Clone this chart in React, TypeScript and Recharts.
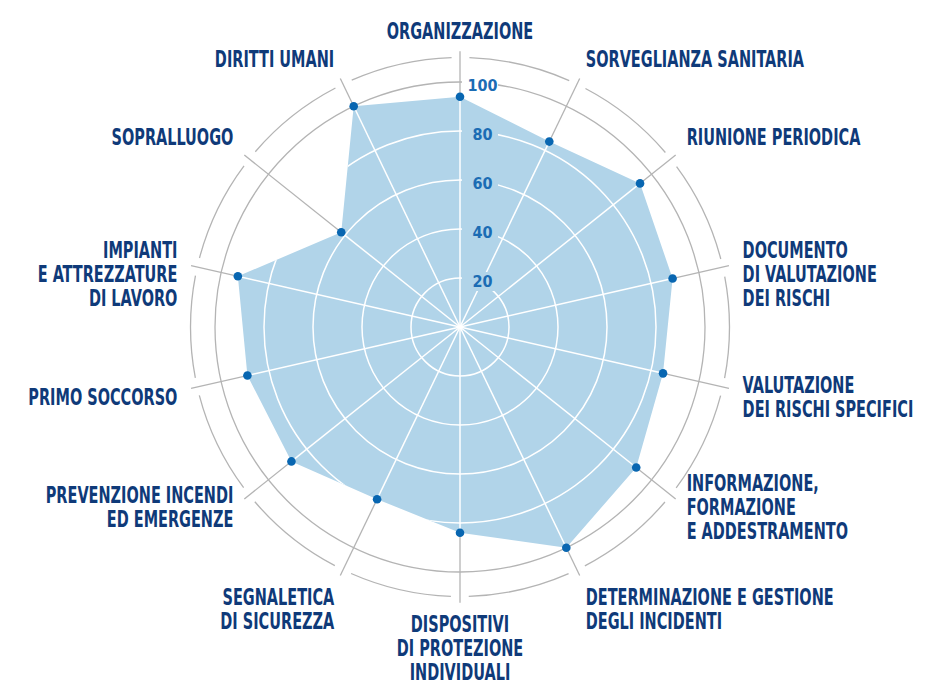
import { PolarAngleAxis, PolarRadiusAxis, Radar, RadarChart } from "recharts";

// categories clockwise from the top, "\n" = line break in the label
const categories = [
  "ORGANIZZAZIONE",
  "SORVEGLIANZA SANITARIA",
  "RIUNIONE PERIODICA",
  "DOCUMENTO\nDI VALUTAZIONE\nDEI RISCHI",
  "VALUTAZIONE\nDEI RISCHI SPECIFICI",
  "INFORMAZIONE,\nFORMAZIONE\nE ADDESTRAMENTO",
  "DETERMINAZIONE E GESTIONE\nDEGLI INCIDENTI",
  "DISPOSITIVI\nDI PROTEZIONE\nINDIVIDUALI",
  "SEGNALETICA\nDI SICUREZZA",
  "PREVENZIONE INCENDI\nED EMERGENZE",
  "PRIMO SOCCORSO",
  "IMPIANTI\nE ATTREZZATURE\nDI LAVORO",
  "SOPRALLUOGO",
  "DIRITTI UMANI",
];
const scores = [94, 84, 94, 89, 85, 92, 100, 84, 78, 88, 89, 93, 62, 100];
const scoreTicks = [20, 40, 60, 80, 100];

const data = categories.map((name, i) => ({ name, score: scores[i] }));

const W = 932;
const H = 686;
const CX = 460;
const CY = 327;
const OUTER_RADIUS = 245; // = 100 on the score scale
const SPOKE_END = 112.6; // spokes run a bit past 100
const OUTER_RING = 110; // broken ring outside the 100 ring
const RING_GAP = 18;

const FILL = "#b1d4e9";
const DOT = "#0866b1";
const GREY = "#b4b4b4";
const NAVY = "#0f3a79";
const TICK_BLUE = "#1b6cb4";
const FONT = "'Liberation Sans Narrow', 'DejaVu Sans Condensed', sans-serif";
const LABEL_SIZE = 23;
const LABEL_SCALE_X = 0.7;
const CAP_H = 16.6;
const LINE_H = 24;
const RAD = Math.PI / 180;

type Pt = { x: number; y: number; cx: number; cy: number; angle: number; radius: number; value: number };

function RadarShape(props: any) {
  const points: Pt[] = props.points || [];
  if (!points.length) return null;
  const { cx, cy } = points[0];
  const ref = points.find((p) => p.value > 0)!;
  const k = ref.radius / ref.value;
  const polar = (r: number, a: number) => ({ x: cx + r * Math.cos(-a * RAD), y: cy + r * Math.sin(-a * RAD) });
  const poly = points.map((p) => `${p.x},${p.y}`).join(" ");

  // dashes of the outer ring, gaps centred on each spoke
  const ringR = k * OUTER_RING;
  const step = 360 / points.length;
  const seg = (2 * Math.PI * ringR) / points.length;
  const firstSpoke = ((((-points[0].angle) % 360) + 360) % 360) % step;
  const s0 = ringR * firstSpoke * RAD;

  return (
    <g>
      <defs>
        <clipPath id="radarFillClip">
          <polygon points={poly} />
        </clipPath>
      </defs>
      {points.map((p, i) => {
        const e = polar(k * SPOKE_END, p.angle);
        return <line key={`s${i}`} x1={cx} y1={cy} x2={e.x} y2={e.y} stroke={GREY} strokeWidth={1.3} />;
      })}
      <circle cx={cx} cy={cy} r={k * 100} fill="none" stroke={GREY} strokeWidth={1.3} />
      <circle
        cx={cx}
        cy={cy}
        r={ringR}
        fill="none"
        stroke={GREY}
        strokeWidth={1.3}
        strokeDasharray={`${seg - RING_GAP} ${RING_GAP}`}
        strokeDashoffset={seg - s0 - RING_GAP / 2}
      />
      <polygon points={poly} fill={FILL} stroke="none" />
      <g clipPath="url(#radarFillClip)">
        {scoreTicks.map((t) => (
          <circle key={t} cx={cx} cy={cy} r={k * t} fill="none" stroke="#fff" strokeWidth={1.5} />
        ))}
      </g>
      {points.map((p, i) => (
        <line key={`w${i}`} x1={cx} y1={cy} x2={p.x} y2={p.y} stroke="#fff" strokeWidth={1.5} />
      ))}
    </g>
  );
}

function CategoryTick(props: any) {
  const { x, y, payload } = props;
  const dx = x - CX;
  const dy = y - CY;
  const len = Math.hypot(dx, dy) || 1;
  const s = dx / len;
  const c = -dy / len;
  const r = (OUTER_RADIUS * SPOKE_END) / 100;
  const px = CX + s * r;
  const py = CY - c * r;
  const lines = String(payload.value).split("\n");
  const anchor = Math.abs(s) < 0.1 ? "middle" : s > 0 ? "start" : "end";
  const tx = px + s * 14;
  const blockH = (lines.length - 1) * LINE_H + CAP_H;
  let top: number;
  if (c > 0.5) top = py - 7 - 5 * c - blockH;
  else if (c < -0.7) top = py + 13;
  else top = py + 8 - blockH / 2;
  const base = top + CAP_H;
  return (
    <g transform={`translate(${tx},0) scale(${LABEL_SCALE_X},1)`}>
      <text textAnchor={anchor} fontFamily={FONT} fontWeight={700} fontSize={LABEL_SIZE} fill={NAVY}>
        {lines.map((line, i) => (
          <tspan key={i} x={0} y={base + i * LINE_H}>
            {line}
          </tspan>
        ))}
      </text>
    </g>
  );
}

function ScoreTick(props: any) {
  const { x, y, payload } = props;
  if (!payload || payload.value === 0) return null;
  // label sits on the ring, knocking it out
  const inside = payload.value <= scores[0];
  const my = y + 3.5;
  return (
    <g>
      <rect x={x + 2} y={my - 9.5} width={36} height={19} fill={inside ? FILL : "#fff"} />
      <text x={x + 22.5} y={my + 5.8} textAnchor="middle" fontFamily={FONT} fontWeight={700} fontSize={16} fill={TICK_BLUE}>
        {payload.value}
      </text>
    </g>
  );
}

export default function App() {
  return (
    <div style={{ position: "absolute", left: 0, top: 0, width: W, height: H, background: "#fff" }}>
      <RadarChart
        width={W}
        height={H}
        data={data}
        cx={CX}
        cy={CY}
        outerRadius={OUTER_RADIUS}
        margin={{ top: 0, right: 0, bottom: 0, left: 0 }}
      >
        <PolarAngleAxis dataKey="name" tick={CategoryTick} tickLine={false} axisLine={false} />
        <Radar
          dataKey="score"
          fill={FILL}
          fillOpacity={1}
          stroke="none"
          shape={RadarShape}
          dot={{ r: 4.3, fill: DOT, fillOpacity: 1, stroke: "none" }}
          isAnimationActive={false}
        />
        <PolarRadiusAxis angle={90} domain={[0, 100]} tickCount={6} axisLine={false} tickLine={false} tick={ScoreTick} />
      </RadarChart>
    </div>
  );
}
